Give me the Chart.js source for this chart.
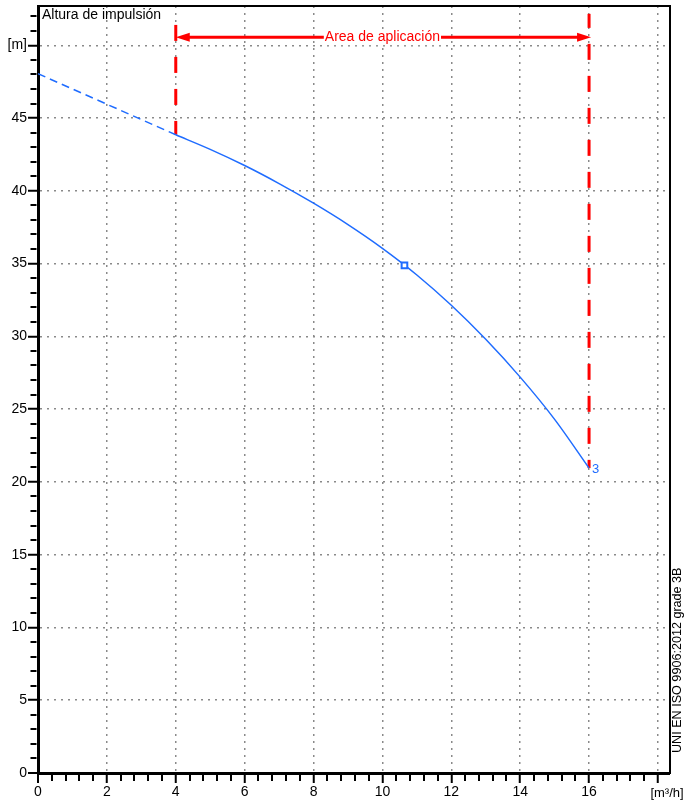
<!DOCTYPE html>
<html>
<head>
<meta charset="utf-8">
<script src="https://cdn.jsdelivr.net/npm/chart.js@4/dist/chart.umd.min.js"></script>
<style>
  html, body { margin: 0; padding: 0; background: #fff; }
  #wrap { width: 684px; height: 803px; }
</style>
</head>
<body>
<div id="wrap"><canvas id="c" width="684" height="803"></canvas></div>
<script>
// pump curve: dashed part outside the application range, solid part inside
const dashX  = [0, 1, 2, 3, 4];
const dashY  = [48.05, 47.0, 45.95, 44.9, 43.85];
const curveX = [4, 5, 6, 7, 8, 9, 10, 11, 12, 13, 14, 15, 16];
const curveY = [43.85, 42.85, 41.74, 40.5, 39.15, 37.68, 36.05, 34.22, 32.14, 29.8, 27.2, 24.3, 20.95];
const dutyX = [10.64];
const dutyY = [34.88];

// application range (red dashed limits + arrow)
const rangeX    = [4, 16];
const rangeTopY = [51.4, 52.16];
const rangeBotY = [43.85, 20.95];
const arrowY = 50.56;
const rangeLabel = 'Area de aplicación';
const curveLabel = '3';

const xMax = 18.35, yMax = 52.7;
const xMajor = [0, 2, 4, 6, 8, 10, 12, 14, 16, 18];
const xMajorLabels = ['0', '2', '4', '6', '8', '10', '12', '14', '16', ''];
const yMajor = [0, 5, 10, 15, 20, 25, 30, 35, 40, 45, 50];
const yMajorLabels = ['0', '5', '10', '15', '20', '25', '30', '35', '40', '45', '[m]'];

const xTicks = []; for (let i = 0; i <= 45; i++) xTicks.push(Math.round(i * 4) / 10);
const yTicks = []; for (let i = 0; i <= 52; i++) yTicks.push(i);

const FONT = '"Liberation Sans", Arial, sans-serif';
const BLUE = '#1f6cff', RED = '#ff0000', GRID = '#8a8a8a';

const near = (a, b) => Math.abs(a - b) < 1e-6;
const isMajX = v => xMajor.some(m => near(m, v));
const isMajY = v => yMajor.some(m => near(m, v));

const pts = (xs, ys) => xs.map((x, i) => ({ x, y: ys[i] }));

const extras = {
  id: 'extras',
  afterDatasetsDraw(chart) {
    const { ctx, scales: { x, y } } = chart;
    const x1 = x.getPixelForValue(rangeX[0]), x2 = x.getPixelForValue(rangeX[1]);
    const ay = y.getPixelForValue(arrowY);
    ctx.save();
    ctx.strokeStyle = RED; ctx.fillStyle = RED; ctx.lineWidth = 3;
    ctx.beginPath(); ctx.moveTo(x1 + 10, ay); ctx.lineTo(x2 - 10, ay); ctx.stroke();
    ctx.beginPath(); ctx.moveTo(x1, ay); ctx.lineTo(x1 + 14, ay - 4.5); ctx.lineTo(x1 + 14, ay + 4.5); ctx.closePath(); ctx.fill();
    ctx.beginPath(); ctx.moveTo(x2 + 2, ay); ctx.lineTo(x2 - 12, ay - 4.5); ctx.lineTo(x2 - 12, ay + 4.5); ctx.closePath(); ctx.fill();
    ctx.font = '14px ' + FONT;
    const cx = x.getPixelForValue((rangeX[0] + rangeX[1]) / 2);
    const w = ctx.measureText(rangeLabel).width;
    ctx.fillStyle = '#fff'; ctx.fillRect(cx - w / 2 - 1, ay - 8, w + 2, 16);
    ctx.fillStyle = RED; ctx.textAlign = 'center'; ctx.textBaseline = 'middle';
    ctx.fillText(rangeLabel, cx, ay);
    // curve id at end point
    ctx.fillStyle = BLUE; ctx.font = '13px ' + FONT; ctx.textAlign = 'left';
    ctx.fillText(curveLabel, x.getPixelForValue(curveX[curveX.length - 1]) + 3, y.getPixelForValue(curveY[curveY.length - 1]) + 1);
    ctx.restore();
  },
  afterDraw(chart) {
    const { ctx, chartArea: a } = chart;
    ctx.save();
    ctx.strokeStyle = '#000'; ctx.lineWidth = 2;
    ctx.beginPath(); ctx.moveTo(a.left, a.top); ctx.lineTo(a.right, a.top); ctx.lineTo(a.right, a.bottom + 1); ctx.stroke();
    ctx.fillStyle = '#000'; ctx.textBaseline = 'alphabetic';
    ctx.font = '14px ' + FONT; ctx.textAlign = 'left';
    ctx.fillText('Altura de impulsión', a.left + 4, 19);
    ctx.font = '13px ' + FONT; ctx.textAlign = 'center';
    ctx.fillText('[m³/h]', 667, 797);
    ctx.translate(677.5, 753); ctx.rotate(-Math.PI / 2);
    ctx.font = '12.6px ' + FONT; ctx.textAlign = 'left'; ctx.textBaseline = 'middle';
    ctx.fillText('UNI EN ISO 9906:2012 grade 3B', 0, 0);
    ctx.restore();
  }
};

new Chart(document.getElementById('c'), {
  type: 'line',
  data: { datasets: [
    { data: pts(dutyX, dutyY), showLine: false, pointStyle: 'rect', pointRadius: 4, borderWidth: 2,
      pointBorderColor: BLUE, pointBackgroundColor: '#fff', order: 0 },
    { data: pts(curveX, curveY), borderColor: BLUE, borderWidth: 1.5, pointRadius: 0, cubicInterpolationMode: 'monotone', order: 1 },
    { data: pts(dashX, dashY), borderColor: BLUE, borderWidth: 1.5, pointRadius: 0, borderDash: [8, 5], order: 1 },
    { data: [{ x: rangeX[0], y: rangeTopY[0] }, { x: rangeX[0], y: rangeBotY[0] }], borderColor: RED, borderWidth: 3,
      borderDash: [16, 16], pointRadius: 0, order: 2 },
    { data: [{ x: rangeX[1], y: rangeTopY[1] }, { x: rangeX[1], y: rangeBotY[1] }], borderColor: RED, borderWidth: 3,
      borderDash: [16, 16], borderDashOffset: 2, pointRadius: 0, order: 2 },
  ]},
  options: {
    responsive: false, animation: false,
    layout: { padding: { left: 0, top: 2, right: 14, bottom: 0 } },
    plugins: { legend: { display: false }, tooltip: { enabled: false } },
    scales: {
      x: {
        type: 'linear', min: 0, max: xMax,
        afterBuildTicks: s => { s.ticks = xTicks.map(v => ({ value: v })); },
        afterFit: s => { s.height = 30; s.paddingLeft = 0; s.paddingRight = 0; },
        border: { width: 3, color: '#000', dash: [2, 5] },
        grid: {
          color: GRID,
          lineWidth: c => (c.tick && isMajX(c.tick.value) && c.tick.value > 0) ? 1.5 : 0,
          tickLength: 10, tickWidth: 2, tickColor: '#000',
          tickBorderDash: c => (c.tick && isMajX(c.tick.value)) ? [] : [6, 100],
        },
        ticks: { autoSkip: false, maxRotation: 0, padding: 1, color: '#000', font: { family: FONT, size: 14 },
          callback: v => { const i = xMajor.findIndex(m => near(m, v)); return i >= 0 ? xMajorLabels[i] : ''; } },
      },
      y: {
        type: 'linear', min: 0, max: yMax,
        afterBuildTicks: s => { s.ticks = yTicks.map(v => ({ value: v })); },
        afterFit: s => { s.width = 38; s.paddingTop = 0; s.paddingBottom = 0; },
        border: { width: 3, color: '#000', dash: [2, 5] },
        grid: {
          color: GRID,
          lineWidth: c => (c.tick && isMajY(c.tick.value) && c.tick.value > 0) ? 1.5 : 0,
          tickLength: 10, tickWidth: 2, tickColor: '#000',
          tickBorderDash: c => (c.tick && isMajY(c.tick.value)) ? [] : [0, 2.5, 6, 100],
        },
        ticks: { autoSkip: false, padding: 1, color: '#000', font: { family: FONT, size: 14 },
          callback: v => { const i = yMajor.findIndex(m => near(m, v)); return i >= 0 ? yMajorLabels[i] : ''; } },
      },
    },
  },
  plugins: [extras],
});
</script>
</body>
</html>
